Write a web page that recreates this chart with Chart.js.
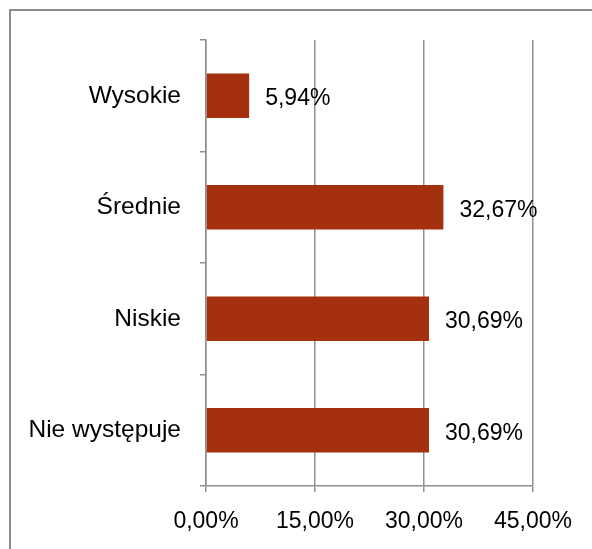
<!DOCTYPE html>
<html>
<head>
<meta charset="utf-8">
<script src="https://cdn.jsdelivr.net/npm/chart.js@4/dist/chart.umd.min.js"></script>
<style>
  html, body { margin: 0; padding: 0; background: #fff; }
  #wrap { width: 592px; height: 549px; position: relative; }
</style>
</head>
<body>
<div id="wrap"><canvas id="c"></canvas></div>
<script>
// Poziom zjawiska – udział odpowiedzi (%)
const categories = ['Wysokie', 'Średnie', 'Niskie', 'Nie występuje'];
const shares = [5.94, 32.67, 30.69, 30.69];
const axisTicks = [0, 15, 30, 45];

const FAMILY = '"Liberation Sans", Arial, sans-serif';
const FONT = { family: FAMILY, size: 23 };
const CAT_FONT = { family: FAMILY, size: 24.5 };
const GRID = '#8f8f8f';
const BAR = '#A5300F';

const pct = v => Number(v).toFixed(2).replace('.', ',') + '%';

// Frame around the chart (left and top edges)
const framePlugin = {
  id: 'frame',
  beforeDraw(chart) {
    const ctx = chart.ctx;
    ctx.save();
    ctx.fillStyle = '#fff';
    ctx.fillRect(0, 0, chart.width, chart.height);
    ctx.strokeStyle = '#8c8c8c';
    ctx.lineWidth = 2;
    ctx.beginPath();
    ctx.moveTo(10, chart.height + 2);
    ctx.lineTo(10, 10);
    ctx.lineTo(chart.width + 2, 10);
    ctx.stroke();
    ctx.restore();
  }
};

// Value labels to the right of each bar
const valueLabels = {
  id: 'valueLabels',
  afterDatasetsDraw(chart) {
    const ctx = chart.ctx;
    ctx.save();
    ctx.font = FONT.size + 'px ' + FONT.family;
    ctx.fillStyle = '#000';
    ctx.textAlign = 'left';
    ctx.textBaseline = 'middle';
    chart.getDatasetMeta(0).data.forEach((bar, i) => {
      ctx.fillText(pct(shares[i]), bar.x + 16, bar.y + 3);
    });
    ctx.restore();
  }
};

new Chart(document.getElementById('c'), {
  type: 'bar',
  data: {
    labels: categories,
    datasets: [{
      data: shares,
      backgroundColor: BAR,
      borderWidth: 0,
      categoryPercentage: 1,
      barPercentage: 0.4
    }]
  },
  options: {
    indexAxis: 'y',
    responsive: true,
    maintainAspectRatio: false,
    animation: false,
    layout: { padding: { left: 0, right: 59, top: 40, bottom: 0 } },
    plugins: { legend: { display: false }, tooltip: { enabled: false } },
    scales: {
      x: {
        min: 0,
        max: 45,
        afterBuildTicks(scale) { scale.ticks = axisTicks.map(v => ({ value: v })); },
        afterFit(scale) { scale.height = 63; },
        grid: { color: GRID, lineWidth: 1.5, drawTicks: true, tickLength: 6 },
        border: { display: true, color: GRID, width: 1.5 },
        ticks: { color: '#000', font: FONT, padding: 16, callback: v => pct(v) }
      },
      y: {
        afterFit(scale) { scale.width = 206; },
        grid: { drawOnChartArea: false, drawTicks: true, tickLength: 6, color: GRID, lineWidth: 1.5, offset: true },
        border: { display: true, color: GRID, width: 1.5 },
        ticks: { color: '#000', font: CAT_FONT, padding: 19 }
      }
    }
  },
  plugins: [framePlugin, valueLabels]
});
</script>
</body>
</html>
